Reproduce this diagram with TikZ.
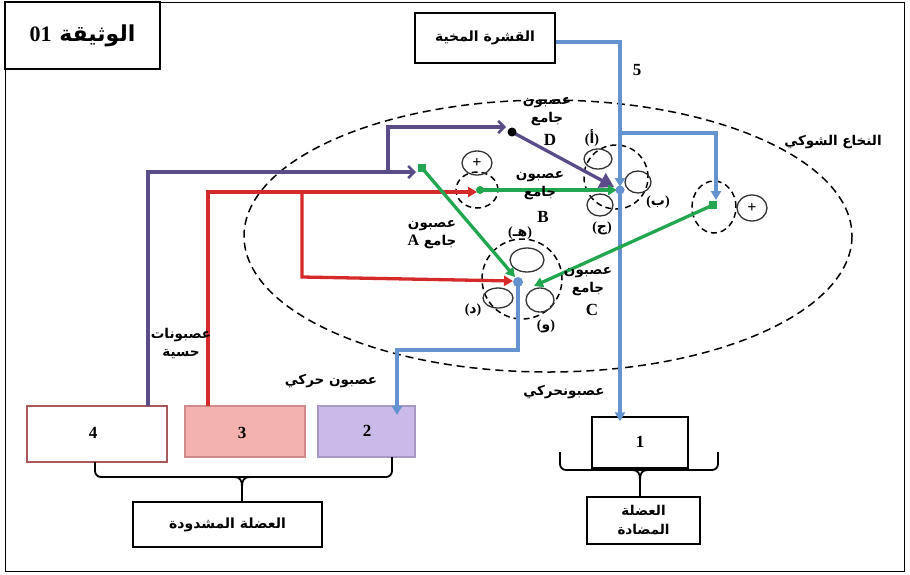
\documentclass[tikz,border=0pt]{standalone}
\usepackage{fontspec}
\setmainfont{Liberation Serif}
\newfontfamily\ar[Script=Arabic]{DejaVu Sans}
\TeXXeTstate=1
\usetikzlibrary{arrows.meta,calc,shapes.geometric}
\definecolor{pur}{HTML}{5A4C88}
\definecolor{rd}{HTML}{D62A2A}
\definecolor{gr}{HTML}{22A650}
\definecolor{bl}{HTML}{6493D0}
\definecolor{pinkf}{HTML}{F4B2AE}
\definecolor{pinkd}{HTML}{D08C8A}
\definecolor{lavf}{HTML}{CABAEA}
\definecolor{lavd}{HTML}{A898C4}
\definecolor{brd}{HTML}{A85A5A}
\newcommand{\AR}[1]{{\ar\beginR #1\endR}}
\newcommand{\PL}[1]{{\rmfamily\bfseries (}\AR{#1}{\rmfamily\bfseries )}}
\tikzset{
  ax/.style={line width=3.3pt},
  tri/.style={-{Triangle[length=9pt,width=10pt]}},
  barb/.style={-{Straight Barb[length=6pt,width=12pt,line width=2.5pt]}},
  box/.style={draw, line width=1.3pt, inner sep=0pt},
  dc/.style={draw, ellipse, dashed, line width=1.5pt, dash pattern=on 6pt off 4pt, inner sep=0pt},
  sm/.style={draw, ellipse, line width=1.3pt, draw=black!80, inner sep=0pt},
  pls/.style={sm, font=\bfseries\fontsize{16}{16}\selectfont},
  lab/.style={font=\ar\bfseries\fontsize{13.5}{18}\selectfont, align=center, inner sep=0pt},
  plab/.style={font=\ar\bfseries\fontsize{14}{16}\selectfont, inner sep=0pt},
  let/.style={font=\bfseries\fontsize{17}{18}\selectfont, inner sep=0pt},
  brc/.style={line width=1.8pt},
}
\begin{document}
\begin{tikzpicture}[x=1pt,y=-1pt]
\useasboundingbox (0,0) rectangle (910,574);
\draw[line width=1pt] (5,2) rectangle (904,571);
% title
\node[box, minimum width=155, minimum height=67] (title) at (82.5,35.5)
  {\ar\bfseries\fontsize{22}{26}\selectfont\beginR الوثيقة \beginL{\rmfamily 01}\endL\endR};
% spinal cord
\draw[dashed, line width=1.5pt, dash pattern=on 8pt off 5pt] (548,236) ellipse [x radius=304, y radius=136];
\node[lab] (cordlab) at (833,142) {\AR{النخاع الشوكي}};
% boxes
\node[box, minimum width=140, minimum height=50] (cortex) at (485,38) {\ar\bfseries\fontsize{14}{16}\selectfont\beginR القشرة المخية\endR};
\node[box, draw=brd, fill=white, minimum width=140, minimum height=56] (b4) at (97,434) {};
\node[let] at (93,433) {4};
\node[box, draw=pinkd, fill=pinkf, minimum width=120, minimum height=51] (b3) at (245,431.5) {};
\node[let] at (242,433) {3};
\node[box, draw=lavd, fill=lavf, minimum width=97, minimum height=51] (b2) at (366.5,431.5) {};
\node[let] at (367,431) {2};
\node[box, minimum width=96, minimum height=51] (b1) at (640,442.5) {};
\node[let] at (640,442) {1};
\node[box, minimum width=189, minimum height=45] (mstr) at (227.5,524.5) {\ar\bfseries\fontsize{14}{16}\selectfont\beginR العضلة المشدودة\endR};
\node[box, minimum width=113, minimum height=47, align=center, font=\ar\bfseries\fontsize{13.5}{19}\selectfont] (mant) at (643.5,520.5) {\AR{العضلة}\\\AR{المضادة}};
% braces
\draw[brc, rounded corners=6pt] (95,462) -- (95,477) -- (392,477) -- (392,457);
\draw[brc] (234,477) .. controls (240,477) and (242,480) .. (242,487) -- (mstr.north -| 242,0);
\draw[brc] (250,477) .. controls (244,477) and (242,480) .. (242,487);
\draw[brc, rounded corners=6pt] (560,452) -- (560,470) -- (718,470) -- (718,452);
\draw[brc] (632,470) .. controls (638,470) and (640,473) .. (640,480) -- (mant.north -| 640,0);
\draw[brc] (648,470) .. controls (642,470) and (640,473) .. (640,480);
% synapse circles
\node[dc, minimum width=42, minimum height=36] (sB) at (477,190) {};
\node[pls, minimum width=30, minimum height=24] (pB) at (477,163) {+};
\node[dc, minimum width=44, minimum height=52] (sR) at (714,207) {};
\node[pls, minimum width=30, minimum height=26] (pR) at (752,208) {+};
\node[dc, minimum width=64, minimum height=64] (sM) at (616,177) {};
\node[sm, minimum width=28, minimum height=20] (ea) at (598,159) {};
\node[sm, minimum width=26, minimum height=22] (eb) at (638,182) {};
\node[sm, minimum width=26, minimum height=22] (ej) at (600,205) {};
\node[dc, minimum width=80, minimum height=80] (sA) at (522,279) {};
\node[sm, minimum width=34, minimum height=24] (eh) at (527,260) {};
\node[sm, minimum width=30, minimum height=20] (ed) at (498,298) {};
\node[sm, minimum width=28, minimum height=24] (ew) at (540,300) {};
% small labels
\node[plab] (la) at (592,138) {\PL{أ}};
\node[plab] (lb) at (658,202) {\PL{ب}};
\node[plab] (lj) at (602,228) {\PL{ج}};
\node[plab] (lh) at (520,233) {\PL{هـ}};
\node[plab] (ld) at (473,310) {\PL{د}};
\node[plab] (lw) at (546,326) {\PL{و}};
% coordinates
\coordinate (bc) at (620,42);
\coordinate (bdot) at (620,190);
\coordinate (adot) at (518,282);
\coordinate (gA) at (422,168);
\coordinate (gB) at (480,190);
\coordinate (gC) at (713,205);
\coordinate (kD) at (512,132);
% blue
\draw[bl, ax, tri] ($(cortex.east)+(0,4)$) -- (bc) -- (620,187);
\draw[bl, ax, tri] (bdot) -- (bdot |- b1.north) -- ++(0,5);
\draw[bl, ax, tri] (620,133) -- (716,133) -- (716,200);
\draw[bl, ax, tri] (adot) -- (518,350) -- (397,350) -- (397,415);
% purple
\draw[pur, ax, barb] (148,406) -- (148,172) -- (416,172);
\draw[pur, ax, barb] (388,172) -- (388,127) -- (506,127);
\draw[pur, ax, -{Triangle[length=14pt,width=16pt]}] (kD) -- (614,187);
\fill[black] (kD) circle (4.5);
% red
\draw[rd, ax, tri] (208,406) -- (208,192) -- (477,192);
\draw[rd, ax, tri] (302,192) -- (302,277) -- (513,281);
% green
\draw[gr, ax, tri] (gB) -- (617,190);
\draw[gr, ax, tri] (gA) -- (515,277);
\draw[gr, ax, tri] (gC) -- (534,286);
\fill[gr] (gB) circle (4);
\fill[gr] ($(gA)+(-4,-4)$) rectangle ($(gA)+(4,4)$);
\fill[gr] ($(gC)+(-4,-4)$) rectangle ($(gC)+(4,4)$);
\fill[bl] (bdot) circle (4.5);
\fill[bl] (adot) circle (5);
% labels
\node[let] (five) at (637,70) {5};
\node[lab] (lDt) at (547,112) {\AR{عصبون}\\\AR{جامع}};
\node[let] (lD) at (550,140) {D};
\node[lab] (lBt) at (540,186) {\AR{عصبون}\\\AR{جامع}};
\node[let] (lB) at (543,217) {B};
\node[lab] (lAt) at (432,235) {\AR{عصبون}\\\ar\beginR جامع \beginL{\rmfamily\fontsize{16}{18}\selectfont A}\endL\endR};
\node[lab] (lCt) at (588,282) {\AR{عصبون}\\\AR{جامع}};
\node[let] (lC) at (592,310) {C};
\node[lab] (lsens) at (181,343) {\AR{عصبونات}\\\AR{حسية}};
\node[lab] (lmot) at (331,381) {\AR{عصبون حركي}};
\node[lab] (lmot2) at (564,392) {\AR{عصبونحركي}};
\end{tikzpicture}
\end{document}
